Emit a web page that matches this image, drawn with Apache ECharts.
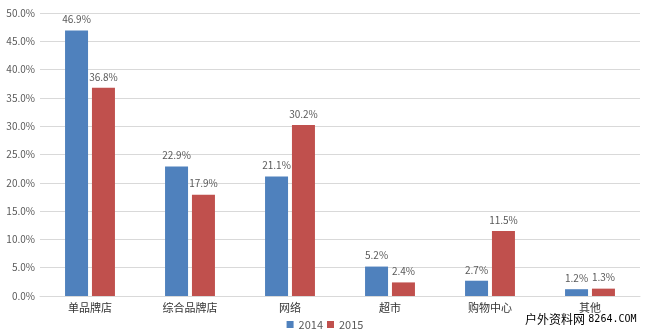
<!DOCTYPE html>
<html>
<head>
<meta charset="utf-8">
<script src="https://cdn.jsdelivr.net/npm/echarts@6/dist/echarts.min.js"></script>
<style>
  html, body { margin: 0; padding: 0; background: #fff; }
  #chart { width: 650px; height: 333px; }
</style>
</head>
<body>
<div id="chart"></div>
<script>
// Sales channel shares, 2014 vs 2015 (percent)
const categories = ['单品牌店', '综合品牌店', '网络', '超市', '购物中心', '其他'];
const values2014 = [46.9, 22.9, 21.1, 5.2, 2.7, 1.2];
const values2015 = [36.8, 17.9, 30.2, 2.4, 11.5, 1.3];
const seriesNames = ['2014', '2015'];
const yTicks = { min: 0, max: 50, interval: 5 };

const chart = echarts.init(document.getElementById('chart'), null, { renderer: 'canvas' });

const labelStyle = {
  show: true,
  position: 'top',
  distance: 6,
  color: '#595959',
  fontSize: 10,
  fontFamily: 'Noto Sans CJK SC, sans-serif',
  formatter: p => p.value.toFixed(1) + '%'
};

chart.setOption({
  animation: false,
  textStyle: { fontFamily: 'Noto Sans CJK SC, sans-serif' },
  grid: { left: 40, right: 10, top: 13, bottom: 37, containLabel: false },
  legend: {
    data: seriesNames,
    top: 314,
    left: 'center',
    itemWidth: 7,
    itemHeight: 7,
    itemGap: 4,
    icon: 'rect',
    textStyle: { color: '#595959', fontSize: 11 }
  },
  xAxis: {
    type: 'category',
    data: categories,
    axisLine: { show: true, lineStyle: { color: '#d9d9d9' } },
    axisTick: { show: false },
    axisLabel: { color: '#333', fontSize: 11, margin: 6 }
  },
  yAxis: {
    type: 'value',
    min: yTicks.min,
    max: yTicks.max,
    interval: yTicks.interval,
    axisLine: { show: false },
    axisTick: { show: false },
    splitLine: { lineStyle: { color: '#d9d9d9' } },
    axisLabel: {
      color: '#595959',
      fontSize: 10,
      margin: 5,
      formatter: v => v.toFixed(1) + '%'
    }
  },
  series: [
    {
      name: seriesNames[0],
      type: 'bar',
      data: values2014,
      barWidth: 23,
      barGap: '17%',
      itemStyle: { color: '#4f81bd' },
      label: labelStyle
    },
    {
      name: seriesNames[1],
      type: 'bar',
      data: values2015,
      barWidth: 23,
      barGap: '17%',
      itemStyle: { color: '#c0504d' },
      label: labelStyle
    }
  ],
  graphic: [
    {
      type: 'text',
      left: 525,
      top: 313,
      style: {
        text: '{cn|户外资料网} {en|8264.COM}',
        rich: {
          cn: { fill: '#000', fontSize: 12, fontFamily: 'Noto Sans CJK SC' },
          en: { fill: '#000', fontSize: 10, fontFamily: 'DejaVu Sans Mono' }
        }
      }
    }
  ]
});
</script>
</body>
</html>
